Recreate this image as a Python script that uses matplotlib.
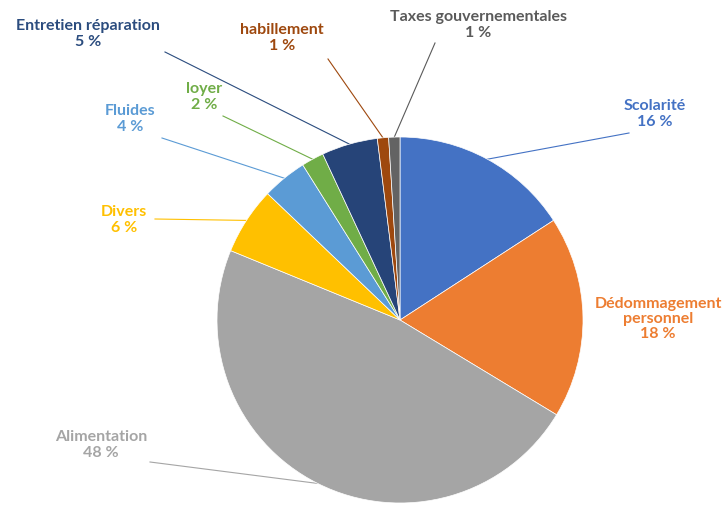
import numpy as np
import matplotlib.pyplot as plt

# slices, clockwise from 12 o'clock
categories = ['Scolarité', 'Dédommagement\npersonnel', 'Alimentation', 'Divers', 'Fluides',
              'loyer', 'Entretien réparation', 'habillement', 'Taxes gouvernementales']
shares = [16, 18, 48, 6, 4, 2, 5, 1, 1]
pct_labels = ['16 %', '18 %', '48 %', '6 %', '4 %', '2 %', '5 %', '1 %', '1 %']

colors = ['#4472C4', '#ED7D31', '#A5A5A5', '#FFC000', '#5B9BD5',
          '#70AD47', '#264478', '#9E480E', '#636363']
text_colors = ['#4472C4', '#ED7D31', '#A5A5A5', '#FFC000', '#5B9BD5',
               '#70AD47', '#2B4C7E', '#9E480E', '#5A5A5A']

W, H = 727, 505
cx, cy, R = 400, H - 320, 183

# label block centres (pixel coords, y from top) and leader line starts (None = no line)
label_pos = [(655, 114), (658, 319), (101, 445), (124, 220), (130, 119),
             (204, 97), (88, 34), (282, 38), (478, 25)]
line_start = [(629, 133), None, (150, 462), (155, 219), (162, 138),
              (223, 116), (165, 52), (328, 59), (435, 43)]

fig = plt.figure(figsize=(W / 100, H / 100), dpi=100)
ax = fig.add_axes([0, 0, 1, 1])

wedges, _ = ax.pie(shares, colors=colors, startangle=90, counterclock=False,
                   center=(cx, cy), radius=R,
                   wedgeprops=dict(linewidth=0.5, edgecolor='white'))

ax.set_xlim(0, W)
ax.set_ylim(0, H)
ax.set_aspect('equal')
ax.axis('off')

for i, w in enumerate(wedges):
    lx, ly = label_pos[i]
    ax.text(lx, H - ly, categories[i] + '\n' + pct_labels[i], ha='center', va='center',
            fontsize=11.5, fontweight='bold', family='Lato', color=text_colors[i],
            linespacing=1.12)
    if line_start[i] is not None:
        mid = np.deg2rad((w.theta1 + w.theta2) / 2)
        ex, ey = cx + R * np.cos(mid), cy + R * np.sin(mid)
        sx, sy = line_start[i]
        ax.plot([sx, ex], [H - sy, ey], color=text_colors[i], lw=0.8, zorder=0)

fig.savefig('out.png', dpi=100)
